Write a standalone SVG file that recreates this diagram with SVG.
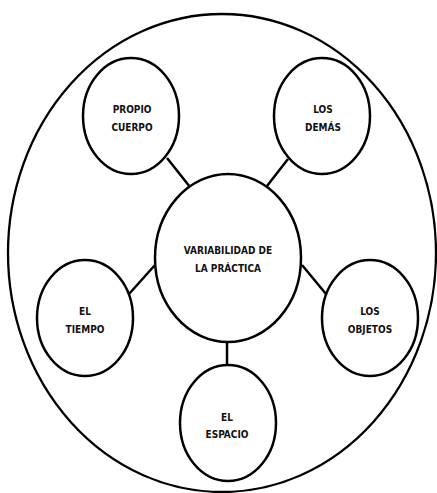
<svg xmlns="http://www.w3.org/2000/svg" width="437" height="493" viewBox="0 0 437 493">
<style>
.n{fill:#fff;stroke:#000;stroke-width:2.5}
.c{stroke:#000;stroke-width:2.5;fill:none}
.t{font-family:"DejaVu Sans Condensed","Liberation Sans",sans-serif;font-weight:bold;font-size:10px;text-anchor:middle;fill:#111}
</style>
<rect width="437" height="493" fill="#fff"/>
<g id="outer"><ellipse cx="222" cy="253" rx="214" ry="239" fill="#fff" stroke="#000" stroke-width="2.3"/></g>
<g id="connectors">
<line class="c" x1="167" y1="158" x2="190" y2="187"/>
<line class="c" x1="288" y1="159" x2="267" y2="186"/>
<line class="c" x1="129" y1="294" x2="155" y2="265"/>
<line class="c" x1="302" y1="265" x2="326" y2="294"/>
<line class="c" x1="227" y1="342" x2="227" y2="366"/>
</g>
<g id="center"><ellipse class="n" cx="228" cy="258" rx="73" ry="84"/>
<text class="t" x="228" y="254">VARIABILIDAD DE</text><text class="t" x="228" y="272">LA PRÁCTICA</text></g>
<g id="propio"><ellipse class="n" cx="131" cy="116" rx="48" ry="58"/>
<text class="t" x="132" y="113">PROPIO</text><text class="t" x="132" y="131">CUERPO</text></g>
<g id="demas"><ellipse class="n" cx="322" cy="116" rx="48" ry="58"/>
<text class="t" x="323" y="113">LOS</text><text class="t" x="323" y="131">DEMÁS</text></g>
<g id="tiempo"><ellipse class="n" cx="85" cy="318" rx="48" ry="58"/>
<text class="t" x="85" y="315">EL</text><text class="t" x="85" y="333">TIEMPO</text></g>
<g id="objetos"><ellipse class="n" cx="370" cy="318" rx="48" ry="58"/>
<text class="t" x="370" y="315">LOS</text><text class="t" x="370" y="333">OBJETOS</text></g>
<g id="espacio"><ellipse class="n" cx="228" cy="423" rx="48" ry="58"/>
<text class="t" x="227" y="421">EL</text><text class="t" x="227" y="438">ESPACIO</text></g>
</svg>
